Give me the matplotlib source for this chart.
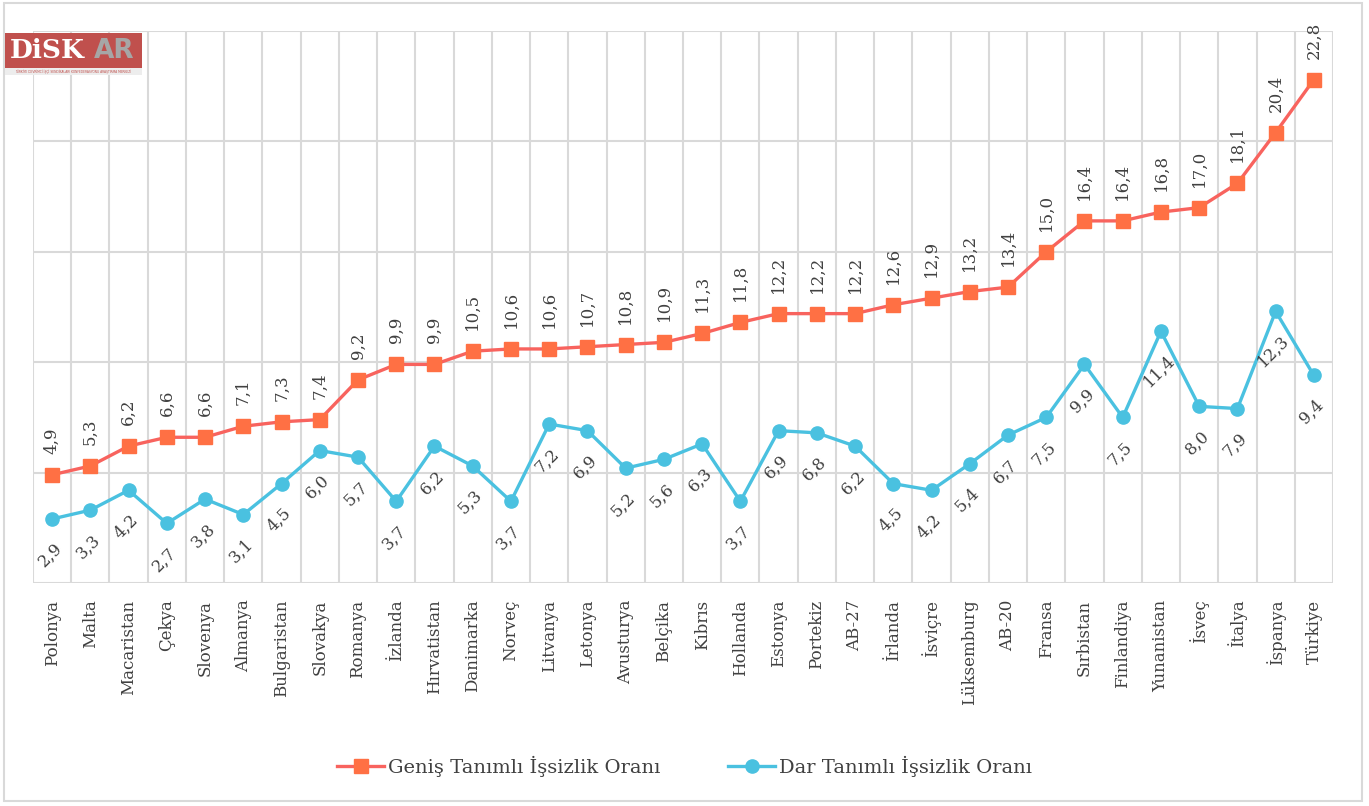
from matplotlib import pyplot as plt
from matplotlib.patches import Rectangle
import numpy as np

countries = ['Polonya', 'Malta', 'Macaristan', 'Çekya', 'Slovenya', 'Almanya', 'Bulgaristan',
             'Slovakya', 'Romanya', 'İzlanda', 'Hırvatistan', 'Danimarka', 'Norveç', 'Litvanya',
             'Letonya', 'Avusturya', 'Belçika', 'Kıbrıs', 'Hollanda', 'Estonya', 'Portekiz',
             'AB-27', 'İrlanda', 'İsviçre', 'Lüksemburg', 'AB-20', 'Fransa', 'Sırbistan',
             'Finlandiya', 'Yunanistan', 'İsveç', 'İtalya', 'İspanya', 'Türkiye']
genis = [4.9, 5.3, 6.2, 6.6, 6.6, 7.1, 7.3, 7.4, 9.2, 9.9, 9.9, 10.5, 10.6, 10.6, 10.7, 10.8, 10.9,
         11.3, 11.8, 12.2, 12.2, 12.2, 12.6, 12.9, 13.2, 13.4, 15.0, 16.4, 16.4, 16.8, 17.0, 18.1,
         20.4, 22.8]
dar = [2.9, 3.3, 4.2, 2.7, 3.8, 3.1, 4.5, 6.0, 5.7, 3.7, 6.2, 5.3, 3.7, 7.2, 6.9, 5.2, 5.6, 6.3,
       3.7, 6.9, 6.8, 6.2, 4.5, 4.2, 5.4, 6.7, 7.5, 9.9, 7.5, 11.4, 8.0, 7.9, 12.3, 9.4]
names = ['Geniş Tanımlı İşsizlik Oranı', 'Dar Tanımlı İşsizlik Oranı']

txt = '#404040'
grid = '#D9D9D9'
plt.rcParams['font.family'] = ['DejaVu Serif']

fig = plt.figure(figsize=(13.69, 8.06), dpi=100)
ax = fig.add_axes([33 / 1369, 1 - 583 / 806, 1300 / 1369, 552 / 806])
x = np.arange(len(countries))

ax.plot(x, genis, color='#F8635E', lw=2.4, marker='s', ms=10, mfc='#FF7044', mec='#FF7044',
        label=names[0], zorder=3)
ax.plot(x, dar, color='#4AC1E0', lw=2.4, marker='o', ms=9.5, mfc='#4AC1E0', mec='#4AC1E0',
        label=names[1], zorder=3)

# value labels: red above (vertical), blue below (diagonal)
for xi, v in zip(x, genis):
    ax.annotate(f'{v:.1f}'.replace('.', ','), (xi, v), xytext=(0, 21), textcoords='offset pixels',
                rotation=90, ha='center', va='bottom', fontsize=12, color=txt)
for xi, v in zip(x, dar):
    ax.annotate(f'{v:.1f}'.replace('.', ','), (xi, v), xytext=(-2, -21), textcoords='offset pixels',
                rotation=45, ha='center', va='top', fontsize=12, color=txt)

ax.set_xlim(-0.5, len(countries) - 0.5)
ax.set_ylim(0, 25)
ax.set_yticks([0, 5, 10, 15, 20, 25])
ax.set_yticklabels([])
ax.set_xticks(x)
ax.set_xticklabels(countries, rotation=90, fontsize=12, color=txt)
ax.set_xticks(np.arange(-0.5, len(countries)), minor=True)
ax.tick_params(axis='both', which='both', length=0)
ax.tick_params(axis='x', pad=12)
ax.grid(axis='y', which='major', color=grid, lw=1.5)
ax.grid(axis='x', which='minor', color=grid, lw=1.5)
ax.set_axisbelow(True)
for s in ax.spines.values():
    s.set_visible(False)

leg = fig.legend(loc='center', bbox_to_anchor=(0.5, 1 - 766 / 806), ncol=2, frameon=False,
                 fontsize=14, handlelength=2.4, columnspacing=3.5, handletextpad=0.2,
                 labelcolor=txt)

# outer frame
fig.patches.append(Rectangle((4 / 1369, 5 / 806), 1358 / 1369, 798 / 806, transform=fig.transFigure,
                             fill=False, ec=grid, lw=1.5))

# logo
fig.patches.append(Rectangle((5 / 1369, 1 - 68 / 806), 137 / 1369, 35 / 806, transform=fig.transFigure,
                             fc='#C0504D', ec='none', zorder=5))
fig.patches.append(Rectangle((5 / 1369, 1 - 75 / 806), 137 / 1369, 7 / 806, transform=fig.transFigure,
                             fc='#EDEDED', ec='none', zorder=5))
fig.text(10 / 1369, 1 - 51 / 806, 'DiSK', color='white', fontsize=19, fontweight='bold',
         va='center', zorder=6)
fig.text(94 / 1369, 1 - 51 / 806, 'AR', color='#A6A6A6', fontsize=19, fontweight='bold',
         va='center', family='DejaVu Sans', zorder=6)
fig.text(73 / 1369, 1 - 71.5 / 806, 'TÜRKİYE DEVRİMCİ İŞÇİ SENDİKALARI KONFEDERASYONU ARAŞTIRMA MERKEZİ',
         color='#C0504D', fontsize=2.2, ha='center', va='center', family='DejaVu Sans', zorder=6)

fig.savefig('out.png', dpi=100)
